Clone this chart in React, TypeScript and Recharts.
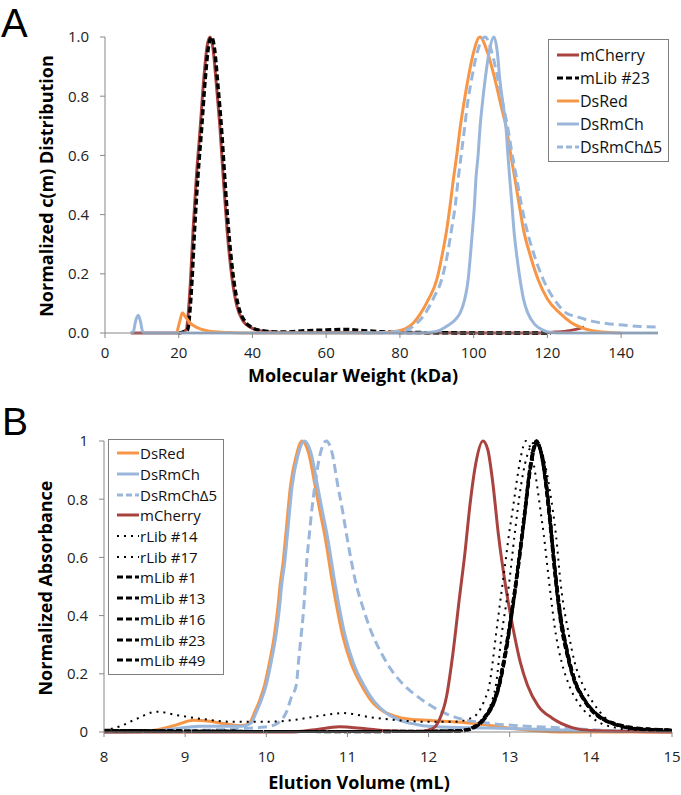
import { LineChart, Line, XAxis, YAxis, Legend } from 'recharts';

type Pt = [number, number];

// ---------- Panel A: c(m) distributions (x = kDa) ----------
const ticksA = [0, 20, 40, 60, 80, 100, 120, 140];
const yTicks = [0, 0.2, 0.4, 0.6, 0.8, 1];

const mCherryA: Pt[] = [
  [7, 0], [20, 0], [22, 0.01], [22.6, 0.07], [23.2, 0.18], [23.9, 0.35], [24.8, 0.53], [25.8, 0.69],
  [26.8, 0.86], [27.7, 0.97], [28.5, 1.0], [29.3, 0.96], [30.2, 0.84], [31.2, 0.69], [32.1, 0.52],
  [33.1, 0.35], [34.4, 0.19], [35.8, 0.09], [37.5, 0.04], [39.3, 0.02], [42, 0.008], [48, 0.002],
  [60, 0.002], [80, 0.001], [100, 0], [118, 0], [122, 0.003], [126, 0.008], [128, 0.013], [130, 0.02],
];
const mLib23A: Pt[] = [
  [20, 0], [22.4, 0.01], [23, 0.07], [23.6, 0.18], [24.3, 0.35], [25.2, 0.53], [26.2, 0.69],
  [27.2, 0.86], [28.1, 0.97], [28.9, 1.0], [29.7, 0.96], [30.6, 0.84], [31.6, 0.69], [32.5, 0.52],
  [33.5, 0.35], [34.8, 0.19], [36.2, 0.09], [37.9, 0.04], [39.7, 0.02], [42.5, 0.008], [48, 0.003],
  [55, 0.008], [60, 0.01], [65, 0.012], [70, 0.008], [75, 0.004], [80, 0.002], [90, 0.001], [100, 0],
  [121, 0],
];
const dsRedA: Pt[] = [
  [19.5, 0], [20.3, 0.04], [21, 0.068], [21.8, 0.055], [23, 0.035], [24, 0.025], [26, 0.013], [28, 0.007],
  [30, 0.004], [35, 0.001], [40, 0], [70, 0], [76, 0.002], [79, 0.006], [81.4, 0.014], [83.5, 0.032],
  [85.4, 0.062], [87.8, 0.115], [90, 0.18], [91.4, 0.26], [92.7, 0.35], [93.6, 0.43], [94.5, 0.52],
  [95.4, 0.6], [96.3, 0.69], [97.4, 0.78], [98.5, 0.86], [99.8, 0.94], [101.7, 1.0], [103.7, 0.95],
  [105.8, 0.855], [107.4, 0.77], [108.9, 0.69], [110.1, 0.6], [111.2, 0.52], [112.4, 0.43], [113.5, 0.35],
  [115.4, 0.26], [117.5, 0.18], [120, 0.115], [123.4, 0.067], [126.5, 0.035], [130, 0.015], [135, 0.003],
  [140, 0],
];
const dsRmChA: Pt[] = [
  [7, 0], [7.7, 0.005], [8.3, 0.04], [9, 0.06], [9.6, 0.04], [10.2, 0.005], [10.8, 0], [85, 0],
  [89, 0.003], [90.9, 0.01], [93, 0.025], [95, 0.045], [96.3, 0.067], [97.5, 0.11], [98.5, 0.18],
  [99.1, 0.26], [99.7, 0.35], [100.2, 0.43], [100.6, 0.52], [101.2, 0.6], [101.7, 0.69], [102.4, 0.78],
  [103.1, 0.855], [104.2, 0.95], [105.5, 1.0], [106.4, 0.95], [107.1, 0.855], [108, 0.77], [108.8, 0.69],
  [109.3, 0.6], [109.8, 0.52], [110.4, 0.43], [110.9, 0.35], [111.7, 0.26], [112.6, 0.18], [113.6, 0.11],
  [114.7, 0.067], [116.5, 0.03], [118.8, 0.01], [121, 0.002], [124, 0], [150, 0],
];
const dsRmChD5A: Pt[] = [
  [70, 0], [76, 0.002], [80, 0.006], [82.3, 0.013], [84.5, 0.032], [86.8, 0.065], [89.2, 0.12], [91.3, 0.18],
  [92.8, 0.26], [94, 0.35], [95, 0.43], [95.8, 0.52], [96.6, 0.6], [97.5, 0.69], [98.4, 0.78], [99.4, 0.855],
  [101, 0.95], [103.1, 1.0], [104.9, 0.95], [106.6, 0.855], [108, 0.77], [109.3, 0.69], [110.5, 0.6],
  [111.7, 0.52], [113, 0.43], [114.4, 0.35], [116.5, 0.26], [118.9, 0.18], [121.5, 0.12], [125.2, 0.067],
  [128, 0.055], [132, 0.04], [136, 0.032], [140.5, 0.027], [145, 0.022], [150, 0.02],
];

// ---------- Panel B: SEC traces (x = mL) ----------
const ticksB = [8, 9, 10, 11, 12, 13, 14, 15];

const dsRedB: Pt[] = [
  [8, 0], [8.5, 0.002], [8.7, 0.01], [8.9, 0.025], [9.1, 0.04], [9.3, 0.037], [9.5, 0.028], [9.7, 0.022],
  [9.79, 0.03], [9.86, 0.07], [9.92, 0.11], [9.98, 0.162], [10.04, 0.24], [10.1, 0.333], [10.14, 0.42],
  [10.17, 0.505], [10.21, 0.59], [10.24, 0.677], [10.3, 0.849], [10.37, 0.95], [10.44, 1.0], [10.52, 0.96],
  [10.6, 0.849], [10.66, 0.76], [10.72, 0.677], [10.82, 0.505], [10.94, 0.333], [11.04, 0.24],
  [11.17, 0.162], [11.3, 0.105], [11.45, 0.07], [11.64, 0.05], [11.8, 0.043], [12.0, 0.04], [12.3, 0.035],
  [12.54, 0.03], [12.96, 0.015], [13.3, 0.005], [13.6, 0], [15, 0],
];
const dsRmChB: Pt[] = [
  [8, 0], [8.6, 0.003], [8.9, 0.012], [9.2, 0.02], [9.5, 0.02], [9.7, 0.02], [9.81, 0.03], [9.88, 0.07],
  [9.94, 0.11], [10.0, 0.162], [10.06, 0.24], [10.12, 0.333], [10.16, 0.42], [10.19, 0.505], [10.23, 0.59],
  [10.26, 0.677], [10.32, 0.849], [10.39, 0.95], [10.47, 1.0], [10.55, 0.96], [10.63, 0.849], [10.69, 0.76],
  [10.75, 0.677], [10.85, 0.505], [10.97, 0.333], [11.07, 0.24], [11.2, 0.162], [11.33, 0.105], [11.48, 0.065],
  [11.65, 0.04], [11.85, 0.026], [12.0, 0.02], [12.5, 0.015], [13, 0.012], [13.5, 0.008], [14, 0.004],
  [15, 0.002],
];
const dsRmChD5B: Pt[] = [
  [8, 0], [9, 0.005], [9.6, 0.01], [9.9, 0.015], [10.05, 0.02], [10.15, 0.032], [10.25, 0.07], [10.31, 0.12],
  [10.37, 0.162], [10.4, 0.25], [10.43, 0.333], [10.46, 0.42], [10.48, 0.505], [10.5, 0.59], [10.53, 0.677],
  [10.56, 0.76], [10.6, 0.849], [10.66, 0.95], [10.74, 1.0], [10.81, 0.96], [10.88, 0.849], [10.94, 0.76],
  [10.99, 0.677], [11.11, 0.505], [11.2, 0.42], [11.3, 0.34], [11.42, 0.27], [11.55, 0.21], [11.7, 0.16],
  [11.85, 0.125], [12.0, 0.095], [12.2, 0.065], [12.4, 0.045], [12.75, 0.03], [13.2, 0.02], [13.6, 0.015],
  [14.0, 0.008], [14.5, 0.003], [15, 0.002],
];
const mCherryB: Pt[] = [
  [8, 0], [10.3, 0], [10.6, 0.008], [10.9, 0.018], [11.2, 0.012], [11.5, 0.004], [11.9, 0.002],
  [12.05, 0.012], [12.13, 0.04], [12.22, 0.12], [12.3, 0.27], [12.38, 0.46], [12.45, 0.62], [12.51, 0.78],
  [12.58, 0.92], [12.67, 1.0], [12.73, 0.97], [12.79, 0.86], [12.86, 0.68], [12.95, 0.5], [13.06, 0.33],
  [13.13, 0.24], [13.22, 0.16], [13.35, 0.09], [13.52, 0.048], [13.77, 0.015], [14, 0.005], [15, 0],
];
const rLib14B: Pt[] = [
  [8, 0.005], [8.2, 0.02], [8.4, 0.045], [8.65, 0.07], [8.9, 0.058], [9.2, 0.045], [9.6, 0.035],
  [10.0, 0.035], [10.3, 0.04], [10.65, 0.055], [10.95, 0.065], [11.3, 0.05], [11.64, 0.04], [12.0, 0.035],
  [12.3, 0.035], [12.5, 0.045], [12.62, 0.07], [12.69, 0.11], [12.75, 0.162], [12.79, 0.24], [12.83, 0.333],
  [12.87, 0.42], [12.91, 0.505], [12.95, 0.59], [12.99, 0.677], [13.04, 0.77], [13.08, 0.849], [13.14, 0.95],
  [13.2, 1.0], [13.26, 0.97], [13.32, 0.88], [13.37, 0.78], [13.42, 0.677], [13.49, 0.505], [13.57, 0.333],
  [13.64, 0.24], [13.73, 0.162], [13.87, 0.09], [14.02, 0.048], [14.3, 0.015], [14.6, 0.006], [15, 0.003],
];
const rLib17B: Pt[] = [
  [8, 0.003], [12.4, 0.003], [12.55, 0.012], [12.68, 0.04], [12.76, 0.09], [12.83, 0.162], [12.9, 0.333],
  [12.99, 0.505], [13.06, 0.677], [13.14, 0.849], [13.24, 0.97], [13.33, 1.0], [13.42, 0.94], [13.5, 0.82],
  [13.57, 0.677], [13.63, 0.505], [13.73, 0.333], [13.8, 0.24], [13.9, 0.162], [14.03, 0.1], [14.18, 0.048],
  [14.4, 0.02], [14.7, 0.008], [15, 0.005],
];

// mLib traces share one elution grid
const mLibX = [8, 9, 10, 11, 12, 12.4, 12.55, 12.65, 12.72, 12.8, 12.87, 12.94, 13.02, 13.1, 13.18, 13.26,
  13.33, 13.41, 13.49, 13.56, 13.63, 13.71, 13.8, 13.9, 14.02, 14.15, 14.3, 14.5, 14.75, 15];
const mLib1 = [0.005, 0.003, 0.002, 0.002, 0.002, 0.004, 0.015, 0.035, 0.06, 0.1, 0.162, 0.26, 0.4, 0.56,
  0.74, 0.92, 1.0, 0.92, 0.73, 0.53, 0.37, 0.26, 0.17, 0.115, 0.07, 0.042, 0.025, 0.012, 0.007, 0.005];
const mLib13 = [0.004, 0.003, 0.002, 0.002, 0.002, 0.005, 0.017, 0.038, 0.065, 0.105, 0.17, 0.27, 0.41, 0.57,
  0.75, 0.93, 1.0, 0.93, 0.75, 0.55, 0.39, 0.27, 0.18, 0.12, 0.075, 0.045, 0.027, 0.014, 0.008, 0.006];
const mLib16 = [0.005, 0.002, 0.002, 0.001, 0.002, 0.003, 0.013, 0.032, 0.056, 0.095, 0.155, 0.25, 0.39, 0.55,
  0.73, 0.91, 0.99, 0.94, 0.76, 0.56, 0.4, 0.28, 0.18, 0.12, 0.075, 0.046, 0.028, 0.015, 0.009, 0.006];
const mLib23 = [0.006, 0.003, 0.002, 0.002, 0.003, 0.005, 0.016, 0.037, 0.062, 0.102, 0.165, 0.265, 0.405, 0.565,
  0.745, 0.925, 1.0, 0.92, 0.74, 0.54, 0.38, 0.265, 0.175, 0.118, 0.072, 0.043, 0.026, 0.013, 0.008, 0.006];
const mLib49 = [0.005, 0.003, 0.002, 0.002, 0.002, 0.004, 0.014, 0.034, 0.058, 0.098, 0.158, 0.255, 0.395, 0.555,
  0.735, 0.915, 0.99, 0.935, 0.755, 0.555, 0.39, 0.275, 0.18, 0.122, 0.076, 0.047, 0.029, 0.016, 0.01, 0.007];

const RED = '#A9433F';
const ORANGE = '#F79646';
const BLUE = '#9AB7DB';
const AXIS = '#888888';
const FONT = '"Open Sans", sans-serif';

const rows = (pts: Pt[]) => pts.map(([x, y]) => ({ x, y }));
const zip = (xs: number[], ys: number[]) => xs.map((x, i) => ({ x, y: ys[i] }));

interface Series {
  name: string;
  data: { x: number; y: number }[];
  color: string;
  width: number;
  dash?: string;
}

const seriesA: Series[] = [
  { name: 'mCherry', data: rows(mCherryA), color: RED, width: 3 },
  { name: 'mLib #23', data: rows(mLib23A), color: '#000', width: 3.5, dash: '6 3' },
  { name: 'DsRed', data: rows(dsRedA), color: ORANGE, width: 3 },
  { name: 'DsRmCh', data: rows(dsRmChA), color: BLUE, width: 3 },
  { name: 'DsRmChΔ5', data: rows(dsRmChD5A), color: BLUE, width: 3, dash: '9 5' },
];

const seriesB: Series[] = [
  { name: 'DsRed', data: rows(dsRedB), color: ORANGE, width: 3 },
  { name: 'DsRmCh', data: rows(dsRmChB), color: BLUE, width: 3 },
  { name: 'DsRmChΔ5', data: rows(dsRmChD5B), color: BLUE, width: 3, dash: '9 5' },
  { name: 'mCherry', data: rows(mCherryB), color: RED, width: 3 },
  { name: 'rLib #14', data: rows(rLib14B), color: '#000', width: 2, dash: '2 5' },
  { name: 'rLib #17', data: rows(rLib17B), color: '#000', width: 2, dash: '2 5' },
  { name: 'mLib #1', data: zip(mLibX, mLib1), color: '#000', width: 3, dash: '6 3' },
  { name: 'mLib #13', data: zip(mLibX, mLib13), color: '#000', width: 3, dash: '5 3' },
  { name: 'mLib #16', data: zip(mLibX, mLib16), color: '#000', width: 3, dash: '7 3' },
  { name: 'mLib #23', data: zip(mLibX, mLib23), color: '#000', width: 3, dash: '6 2' },
  { name: 'mLib #49', data: zip(mLibX, mLib49), color: '#000', width: 3, dash: '5 4' },
];

const LegendBox = ({ items, rowH, fontSize }: { items: Series[]; rowH: number; fontSize: number }) => (
  <div style={{ border: '1px solid #7f7f7f', background: '#fff', padding: '3px 6px 3px 8px', fontFamily: FONT, fontSize, color: '#111' }}>
    {items.map((s) => (
      <div key={s.name} style={{ display: 'flex', alignItems: 'center', height: rowH, whiteSpace: 'nowrap' }}>
        <svg width={22} height={6} style={{ marginRight: 1 }}>
          <line x1={0} y1={3} x2={22} y2={3} stroke={s.color} strokeWidth={Math.min(s.width, 3)} strokeDasharray={s.dash ? (s.width < 2.5 ? s.dash : '6 3') : undefined} />
        </svg>
        <span>{s.name}</span>
      </div>
    ))}
  </div>
);

const tickStyle = { fontSize: 15, fill: '#222', fontFamily: FONT };
const titleProps = { fontSize: 18, fontWeight: 700, fill: '#000', fontFamily: FONT };

const renderLines = (list: Series[]) =>
  list.map((s) => (
    <Line
      key={s.name}
      data={s.data}
      dataKey="y"
      name={s.name}
      type="monotone"
      stroke={s.color}
      strokeWidth={s.width}
      strokeDasharray={s.dash}
      dot={false}
      activeDot={false}
      isAnimationActive={false}
    />
  ));

const PanelA = () => (
  <LineChart width={681} height={400} margin={{ top: 37, right: 23, bottom: 37, left: 45 }}>
    <XAxis
      type="number"
      dataKey="x"
      domain={[0, 150]}
      ticks={ticksA}
      stroke={AXIS}
      tickSize={5}
      tickMargin={9}
      tick={tickStyle}
      label={{
        content: () => (
          <text x={353} y={382} textAnchor="middle" {...titleProps}>Molecular Weight (kDa)</text>
        ),
      }}
    />
    <YAxis
      type="number"
      domain={[0, 1]}
      ticks={yTicks}
      width={60}
      stroke={AXIS}
      tickSize={5}
      tickMargin={11}
      tick={tickStyle}
      tickFormatter={(v: number) => v.toFixed(1)}
      label={{
        content: () => (
          <text x={46} y={186} transform="rotate(-90 46 186)" textAnchor="middle" dominantBaseline="central" {...titleProps}>
            Normalized c(m) Distribution
          </text>
        ),
      }}
    />
    <Legend
      layout="vertical"
      align="center"
      verticalAlign="middle"
      wrapperStyle={{ position: 'absolute', left: 548, top: 39, width: 'auto' }}
      content={() => <LegendBox items={seriesA} rowH={23} fontSize={16} />}
    />
    {renderLines(seriesA)}
  </LineChart>
);

const PanelB = () => (
  <LineChart width={681} height={395} margin={{ top: 41, right: 9, bottom: 33, left: 44 }}>
    <XAxis
      type="number"
      dataKey="x"
      domain={[8, 15]}
      ticks={ticksB}
      stroke={AXIS}
      tickSize={5}
      tickMargin={14}
      tick={tickStyle}
      label={{
        content: () => (
          <text x={359} y={389} textAnchor="middle" {...titleProps}>Elution Volume (mL)</text>
        ),
      }}
    />
    <YAxis
      type="number"
      domain={[0, 1]}
      ticks={yTicks}
      width={60}
      stroke={AXIS}
      tickSize={5}
      tickMargin={11}
      tick={tickStyle}
      label={{
        content: () => (
          <text x={45} y={188} transform="rotate(-90 45 188)" textAnchor="middle" dominantBaseline="central" {...titleProps}>
            Normalized Absorbance
          </text>
        ),
      }}
    />
    <Legend
      layout="vertical"
      align="center"
      verticalAlign="middle"
      wrapperStyle={{ position: 'absolute', left: 108, top: 39, width: 'auto' }}
      content={() => <LegendBox items={seriesB} rowH={20.7} fontSize={15} />}
    />
    {renderLines(seriesB)}
  </LineChart>
);

export default function App() {
  return (
    <div style={{ position: 'absolute', left: 0, top: 0, width: 681, height: 795, background: '#fff' }}>
      <div style={{ position: 'absolute', left: 0, top: 0 }}>
        <PanelA />
      </div>
      <div style={{ position: 'absolute', left: 0, top: 400 }}>
        <PanelB />
      </div>
      <svg width={681} height={795} style={{ position: 'absolute', left: 0, top: 0, pointerEvents: 'none' }}>
        <text x={1} y={37} fontSize={40} fontFamily='"Liberation Sans", Arial, sans-serif' fill="#000">A</text>
        <text x={2} y={435} fontSize={39} fontFamily='"Liberation Sans", Arial, sans-serif' fill="#000">B</text>
      </svg>
    </div>
  );
}
